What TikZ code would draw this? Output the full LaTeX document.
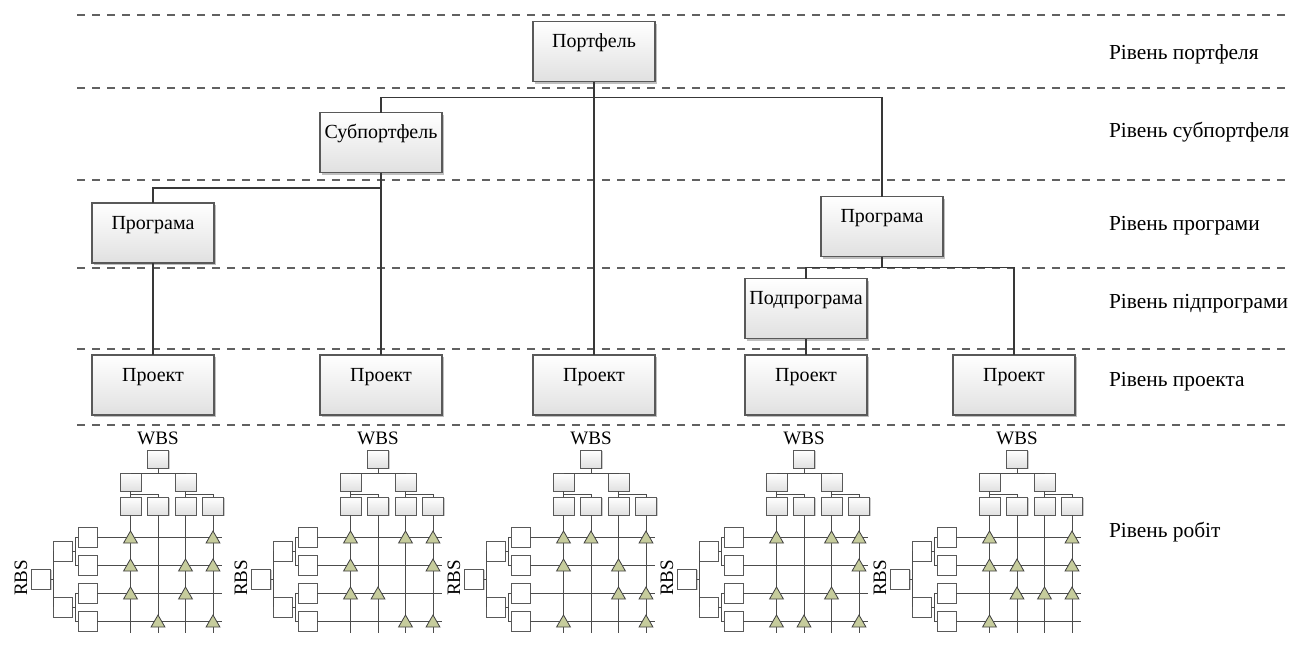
\documentclass[tikz,border=0pt]{standalone}
\usepackage{fontspec}
\setmainfont{Liberation Serif}
\usetikzlibrary{shapes.geometric,shadows}
\definecolor{olivetri}{RGB}{198,204,156}
\begin{document}
\begin{tikzpicture}[x=0.5pt,y=-0.5pt,inner sep=0pt,outer sep=0pt,
conn/.style={draw=black!78,line width=0.65pt},
levelline/.style={draw=black!62,line width=0.75pt,dash pattern=on 4pt off 3.5pt},
gridline/.style={draw=black!70,line width=0.5pt},
bigblock/.style={draw=black!65,line width=0.6pt,rectangle,minimum width=61pt,minimum height=30pt,text height=7pt,text depth=11pt,top color=white,bottom color=black!12,drop shadow={shadow xshift=1pt,shadow yshift=-1pt,opacity=0.25,fill=black},font=\fontsize{10}{12}\selectfont},
wbsblock/.style={draw=black!65,line width=0.5pt,rectangle,minimum width=10.5pt,minimum height=9pt,top color=white,bottom color=black!12,drop shadow={shadow xshift=0.6pt,shadow yshift=-0.6pt,opacity=0.2,fill=black}},
rbsblock/.style={draw=black!65,line width=0.5pt,rectangle,minimum width=9.5pt,minimum height=10pt,fill=white,drop shadow={shadow xshift=0.6pt,shadow yshift=-0.6pt,opacity=0.2,fill=black}},
tri/.style={draw=black!75,line width=0.4pt,fill=olivetri,regular polygon,regular polygon sides=3,minimum size=8pt},
levellabel/.style={anchor=west,font=\fontsize{10.7}{13}\selectfont},
smalllabel/.style={font=\fontsize{9.5}{11}\selectfont}]

\useasboundingbox (0,0) rectangle (1291,644);
\foreach \y in {15,88,180,268,349,425}
  \draw[levelline] (77,\y) -- (1291,\y);

\draw (594,51.5) node[bigblock] (port) {Портфель};
\draw (381,142.5) node[bigblock] (subport) {Субпортфель};
\draw (153,233) node[bigblock] (progA) {Програма};
\draw (882,226.5) node[bigblock] (progB) {Програма};
\draw (806,308.5) node[bigblock] (subprog) {Подпрограма};
\draw (153,385) node[bigblock] (projA) {Проект};
\draw (381,385) node[bigblock] (projB) {Проект};
\draw (594,385) node[bigblock] (projC) {Проект};
\draw (806,385) node[bigblock] (projD) {Проект};
\draw (1014,385) node[bigblock] (projE) {Проект};

\draw[conn] (port.south) -- (projC.north);
\draw[conn] (subport.north) -- ++(0,-15) -| (progB.north);
\draw[conn] (subport.south) -- (projB.north);
\draw[conn] (progA.north) -- ++(0,-15) -| (subport.south);
\draw[conn] (progA.south) -- (projA.north);
\draw[conn] (progB.south) -- ++(0,11) -| (subprog.north);
\draw[conn] (progB.south) -- ++(0,11) -| (projE.north);
\draw[conn] (subprog.south) -- (projD.north);

\draw (1109,54) node[levellabel] (lvlport) {Рівень портфеля};
\draw (1109,132) node[levellabel] (lvlsub) {Рівень субпортфеля};
\draw (1109,226) node[levellabel] (lvlprog) {Рівень програми};
\draw (1109,304) node[levellabel] (lvlsubprog) {Рівень підпрограми};
\draw (1109,382) node[levellabel] (lvlproj) {Рівень проекта};
\draw (1109,532) node[levellabel] (lvlwork) {Рівень робіт};

\foreach \dx/\marks [count=\i] in {158/{1/1,4/1,1/2,3/2,4/2,1/3,3/3,2/4,4/4},
  378/{1/1,3/1,4/1,1/2,4/2,1/3,2/3,3/4,4/4},
  591/{1/1,2/1,4/1,1/2,3/2,3/3,4/3,1/4,4/4},
  804/{1/1,3/1,4/1,4/2,1/3,3/3,1/4,2/4,4/4},
  1017/{1/1,4/1,1/2,2/2,4/2,2/3,3/3,4/3,1/4}}{
\begin{scope}[shift={(\dx,0)}]
\draw (0,438) node[smalllabel] (wlab\i) {WBS};
\draw (-137,578) node[smalllabel,rotate=90] (rlab\i) {RBS};
\draw (0,459) node[wbsblock] (wt\i) {};
\draw (-27.5,482) node[wbsblock] (wa\i) {};
\draw (27.5,482) node[wbsblock] (wb\i) {};
\draw (-117,579) node[rbsblock] (rt\i) {};
\draw (-95.5,551) node[rbsblock] (ra\i) {};
\draw (-95.5,607) node[rbsblock] (rb\i) {};
\foreach \k in {1,...,4}{
  \draw (-55+27.5*\k,506) node[wbsblock] (wc\i\k) {};
  \draw (-70.5,509+28*\k) node[rbsblock] (rc\i\k) {};
  \draw[gridline] (wc\i\k.south) -- ++(0,118);
  \draw[gridline] (rc\i\k.east) -- ++(125,0);
}
\draw[gridline] (wt\i.south) -- ++(0,5) -| (wa\i.north);
\draw[gridline] (wt\i.south) -- ++(0,5) -| (wb\i.north);
\draw[gridline] (wa\i.south) -- ++(0,3) -| (wc\i1.north);
\draw[gridline] (wa\i.south) -- ++(0,3) -| (wc\i2.north);
\draw[gridline] (wb\i.south) -- ++(0,3) -| (wc\i3.north);
\draw[gridline] (wb\i.south) -- ++(0,3) -| (wc\i4.north);
\draw[gridline] (rt\i.east) -- ++(2.5,0) |- (ra\i.west);
\draw[gridline] (rt\i.east) -- ++(2.5,0) |- (rb\i.west);
\draw[gridline] (ra\i.east) -- ++(3,0) |- (rc\i1.west);
\draw[gridline] (ra\i.east) -- ++(3,0) |- (rc\i2.west);
\draw[gridline] (rb\i.east) -- ++(3,0) |- (rc\i3.west);
\draw[gridline] (rb\i.east) -- ++(3,0) |- (rc\i4.west);
\foreach \c/\r in \marks
  \draw (-55+27.5*\c,511+28*\r) node[tri] (m\i\c\r) {};
\end{scope}}
\end{tikzpicture}
\end{document}
